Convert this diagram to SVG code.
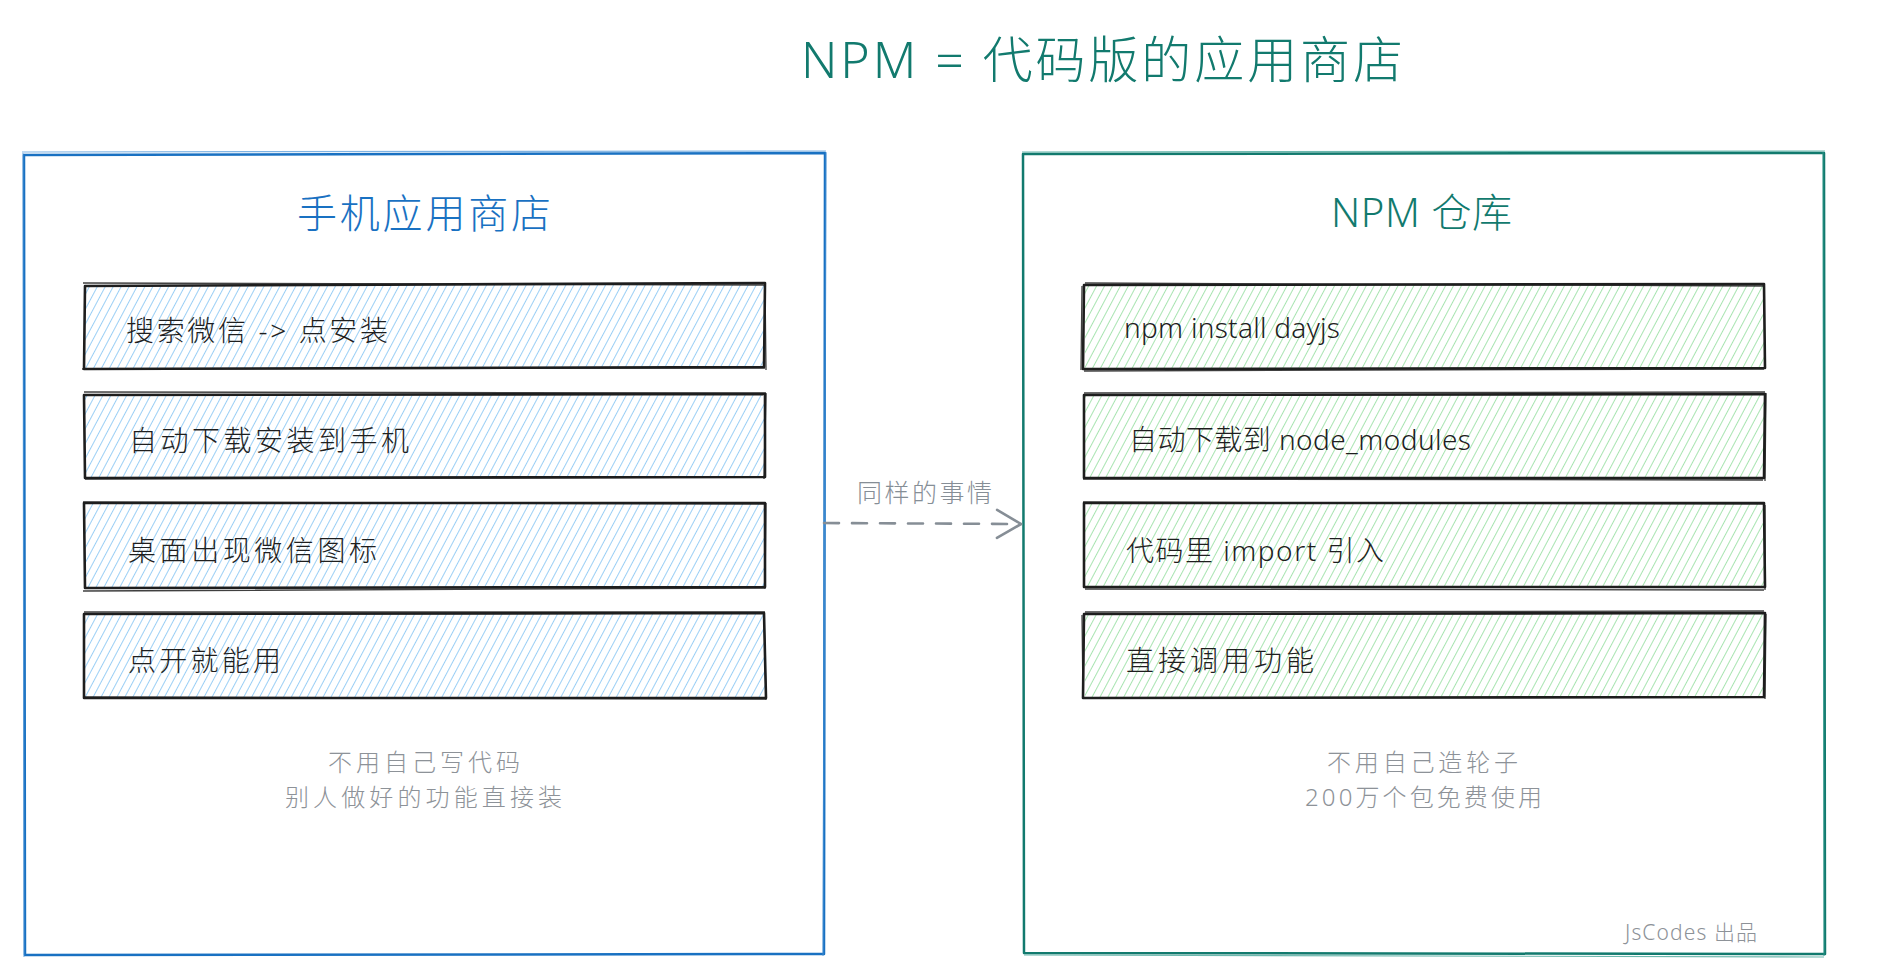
<svg xmlns="http://www.w3.org/2000/svg" width="1888" height="978" viewBox="0 0 1888 978">
  <style>
    text { font-family: "Noto Sans", "Noto Sans CJK SC", sans-serif; font-weight: 300; }
    .title { font-size: 50px; fill: #127a6e; }
    .ptitleB { font-size: 40px; fill: #1971c2; }
    .ptitleG { font-size: 40px; fill: #127a6e; }
    .item { font-size: 28px; fill: #1e1e1e; }
    .note { font-size: 24px; fill: #8d9298; }
    .sign { font-size: 21px; fill: #8d9298; }
    .label { font-size: 25px; fill: #868e96; }
    .frameB { fill: none; stroke: #1971c2; stroke-width: 2.5; stroke-linejoin: round; }
    .frameB2 { fill: none; stroke: #4a93d6; stroke-width: 1.2; opacity: 0.7; }
    .frameG { fill: none; stroke: #127a6e; stroke-width: 2.5; stroke-linejoin: round; }
    .frameG2 { fill: none; stroke: #2e9a8c; stroke-width: 1.2; opacity: 0.7; }
    .box { fill: none; stroke: #1e1e1e; stroke-width: 2.6; stroke-linejoin: round; }
    .box2 { fill: none; stroke: #1e1e1e; stroke-width: 1.3; opacity: 0.85; }
    .conn { fill: none; stroke: #868e96; stroke-width: 2.6; stroke-dasharray: 15 13; stroke-linecap: round; }
  </style>
  <defs>
    <pattern id="hatchBlue" patternUnits="userSpaceOnUse" width="7" height="7" patternTransform="rotate(28)">
      <line x1="3.5" y1="-1" x2="3.5" y2="8" stroke="#9bcff5" stroke-width="1"/>
    </pattern>
    <pattern id="hatchGreen" patternUnits="userSpaceOnUse" width="7" height="7" patternTransform="rotate(28)">
      <line x1="3.5" y1="-1" x2="3.5" y2="8" stroke="#a8e4b1" stroke-width="1"/>
    </pattern>
    <marker id="arrowOpen" viewBox="0 0 28 32" refX="26" refY="16" markerWidth="28" markerHeight="32" markerUnits="userSpaceOnUse" orient="auto">
      <path d="M2,2 L26,16 L2,30" fill="none" stroke="#868e96" stroke-width="2.6" stroke-linecap="round" stroke-linejoin="round" stroke-dasharray="none"/>
    </marker>
  </defs>

  <rect x="0" y="0" width="1888" height="978" fill="#ffffff"/>

  <g id="title">
    <text class="title" x="801" y="78" textLength="602" lengthAdjust="spacing">NPM = 代码版的应用商店</text>
  </g>

  <g id="left-panel">
    <path class="frameB" d="M24,155 L825,153 L824,954 L25,955 Z"/>
    <path class="frameB2" d="M22,152 L826,151 M826,152 L823,956 M23,153 L24,957"/>
    <text class="ptitleB" x="297" y="228" textLength="254" lengthAdjust="spacing">手机应用商店</text>
    <text class="note" x="328" y="771" textLength="192" lengthAdjust="spacing">不用自己写代码</text>
    <text class="note" x="285" y="806" textLength="277" lengthAdjust="spacing">别人做好的功能直接装</text>
  </g>

  <g id="left-item-1">
    <rect x="85" y="285" width="680" height="83" fill="url(#hatchBlue)"/>
    <path class="box" d="M85,286 L765,283 L764,367 L84,369 Z"/>
    <path class="box2" d="M83,283 L766,285 M765,283 L766,370 M82,369 L765,368"/>
    <text class="item" x="126" y="341" textLength="262" lengthAdjust="spacing">搜索微信 -&gt; 点安装</text>
  </g>
  <g id="left-item-2">
    <rect x="85" y="394" width="680" height="84" fill="url(#hatchBlue)"/>
    <path class="box" d="M84,395 L765,394 L765,477 L85,478 Z"/>
    <path class="box2" d="M84,392 L766,393 M766,393 L764,479 M85,479 L764,477"/>
    <text class="item" x="129" y="451" textLength="280" lengthAdjust="spacing">自动下载安装到手机</text>
  </g>
  <g id="left-item-3">
    <rect x="85" y="504" width="680" height="84" fill="url(#hatchBlue)"/>
    <path class="box" d="M84,503 L765,503 L765,587 L85,588 Z"/>
    <path class="box2" d="M83,502 L766,504 M766,503 L765,589 M83,591 L765,588"/>
    <text class="item" x="128" y="561" textLength="249" lengthAdjust="spacing">桌面出现微信图标</text>
  </g>
  <g id="left-item-4">
    <rect x="85" y="614" width="680" height="84" fill="url(#hatchBlue)"/>
    <path class="box" d="M84,614 L764,613 L766,698 L84,698 Z"/>
    <path class="box2" d="M84,612 L765,612 M764,614 L766,700 M84,697 L766,699"/>
    <text class="item" x="128" y="671" textLength="153" lengthAdjust="spacing">点开就能用</text>
  </g>

  <g id="right-panel">
    <path class="frameG" d="M1023,154 L1824,153 L1825,954 L1024,953 Z"/>
    <path class="frameG2" d="M1022,152 L1825,151 M1823,152 L1824,956 M1024,955 L1824,957"/>
    <text class="ptitleG" x="1331" y="227" textLength="181" lengthAdjust="spacing">NPM 仓库</text>
    <text class="note" x="1327" y="771" textLength="191" lengthAdjust="spacing">不用自己造轮子</text>
    <text class="note" x="1305" y="806" textLength="237" lengthAdjust="spacing">200万个包免费使用</text>
    <text class="sign" x="1625" y="940" textLength="132" lengthAdjust="spacing">JsCodes 出品</text>
  </g>

  <g id="right-item-1">
    <rect x="1085" y="285" width="679" height="83" fill="url(#hatchGreen)"/>
    <path class="box" d="M1084,285 L1764,284 L1765,368 L1083,369 Z"/>
    <path class="box2" d="M1085,283 L1763,286 M1082,286 L1081,370 M1084,371 L1764,369"/>
    <text class="item" x="1124" y="338" textLength="216" lengthAdjust="spacing">npm install dayjs</text>
  </g>
  <g id="right-item-2">
    <rect x="1085" y="394" width="679" height="84" fill="url(#hatchGreen)"/>
    <path class="box" d="M1084,395 L1765,394 L1764,478 L1084,478 Z"/>
    <path class="box2" d="M1084,393 L1765,392 M1766,393 L1765,481 M1083,479 L1763,480"/>
    <text class="item" x="1129" y="450" textLength="342" lengthAdjust="spacing">自动下载到 node_modules</text>
  </g>
  <g id="right-item-3">
    <rect x="1085" y="504" width="679" height="84" fill="url(#hatchGreen)"/>
    <path class="box" d="M1084,503 L1764,503 L1765,587 L1084,587 Z"/>
    <path class="box2" d="M1083,502 L1765,504 M1765,505 L1765,590 M1085,589 L1764,590"/>
    <text class="item" x="1126" y="561" textLength="258" lengthAdjust="spacing">代码里 import 引入</text>
  </g>
  <g id="right-item-4">
    <rect x="1085" y="614" width="679" height="84" fill="url(#hatchGreen)"/>
    <path class="box" d="M1084,614 L1765,613 L1764,697 L1083,698 Z"/>
    <path class="box2" d="M1085,612 L1764,611 M1766,614 L1765,699 M1082,615 L1083,699"/>
    <text class="item" x="1126" y="671" textLength="188" lengthAdjust="spacing">直接调用功能</text>
  </g>

  <g id="connectors">
    <path class="conn" d="M824,523 L1021,524" marker-end="url(#arrowOpen)"/>
    <text class="label" x="857" y="502" textLength="135" lengthAdjust="spacing">同样的事情</text>
  </g>
</svg>
